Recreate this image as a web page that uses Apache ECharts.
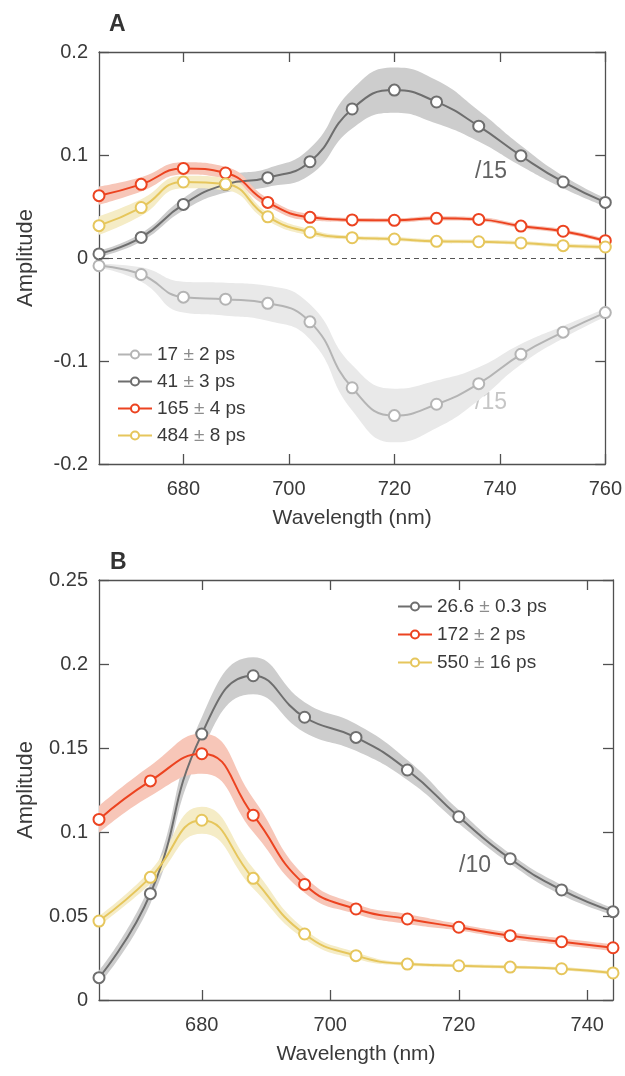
<!DOCTYPE html>
<html>
<head>
<meta charset="utf-8">
<script src="https://cdn.jsdelivr.net/npm/echarts@6/dist/echarts.min.js"></script>
<style>
html,body{margin:0;padding:0;background:#fff;}
#chart{width:625px;height:1076px;}
</style>
</head>
<body>
<div id="chart"></div>
<script>
// panel A data (nm, amplitude), /15 components already scaled
var wlA = [664, 672, 680, 688, 696, 704, 712, 720, 728, 736, 744, 752, 760];
var amp17 = [-0.0075, -0.016, -0.038, -0.040, -0.044, -0.062, -0.126, -0.153, -0.142, -0.122, -0.0935, -0.072, -0.053];
var err17 = [0.002, 0.007, 0.015, 0.016, 0.017, 0.017, 0.022, 0.026, 0.023, 0.016, 0.010, 0.006, 0.004];
var amp41 = [0.004, 0.020, 0.052, 0.0715, 0.078, 0.0935, 0.1447, 0.163, 0.1515, 0.128, 0.0993, 0.0738, 0.054];
var err41 = [0.003, 0.004, 0.006, 0.008, 0.009, 0.013, 0.019, 0.022, 0.021, 0.015, 0.010, 0.006, 0.004];
var amp165 = [0.0605, 0.0715, 0.087, 0.0825, 0.054, 0.0395, 0.037, 0.0366, 0.0385, 0.0375, 0.031, 0.026, 0.0168];
var err165 = [0.009, 0.007, 0.006, 0.006, 0.004, 0.003, 0.002, 0.002, 0.002, 0.002, 0.002, 0.002, 0.002];
var amp484 = [0.0314, 0.049, 0.0738, 0.0718, 0.040, 0.025, 0.0197, 0.0184, 0.0162, 0.0158, 0.0146, 0.012, 0.0107];
var err484 = [0.009, 0.008, 0.006, 0.006, 0.004, 0.003, 0.002, 0.002, 0.002, 0.002, 0.002, 0.002, 0.002];
var namesA = ['17 ± 2 ps', '41 ± 3 ps', '165 ± 4 ps', '484 ± 8 ps'];
var ticksXA = [680, 700, 720, 740, 760];

// panel B data
var wlB = [664, 672, 680, 688, 696, 704, 712, 720, 728, 736, 744];
var amp26 = [0.0133, 0.0633, 0.1583, 0.193, 0.1683, 0.1563, 0.1369, 0.1091, 0.0841, 0.0655, 0.0526];
var err26 = [0.004, 0.006, 0.010, 0.011, 0.009, 0.008, 0.006, 0.004, 0.003, 0.003, 0.002];
var amp172 = [0.1075, 0.1304, 0.1466, 0.110, 0.0688, 0.0542, 0.0482, 0.0433, 0.0383, 0.0347, 0.0311];
var err172 = [0.008, 0.009, 0.012, 0.010, 0.005, 0.003, 0.003, 0.002, 0.002, 0.002, 0.002];
var amp550 = [0.047, 0.073, 0.107, 0.0724, 0.0393, 0.0264, 0.0214, 0.0204, 0.0196, 0.0186, 0.0161];
var err550 = [0.003, 0.004, 0.008, 0.006, 0.003, 0.002, 0.001, 0.001, 0.001, 0.001, 0.001];
var namesB = ['26.6 ± 0.3 ps', '172 ± 2 ps', '550 ± 16 ps'];
var ticksXB = [680, 700, 720, 740];

var FONT = 'Liberation Sans, Arial, sans-serif';
var TXT = '#3a3a3a';
var AXC = '#505050';

var cLight = '#b4b4b4', cDark = '#6e6e6e', cRed = '#ec4320', cYel = '#e6c65c';
var bLight = '#e9e9e9', bDark = '#cdcdcd', bRed = '#f7c6b8', bYel = '#f5ecc6';

var series = [];

// error band = invisible lower edge + stacked width, on a hidden category axis
// that spans the same grid (points are evenly spaced, so positions match)
function addBand(gi, mid, err, color, key) {
  var lower = [], width = [];
  for (var i = 0; i < mid.length; i++) {
    lower.push(mid[i] - err[i]);
    width.push(2 * err[i]);
  }
  series.push({
    type: 'line', xAxisIndex: gi * 3 + 2, yAxisIndex: gi * 2, data: lower,
    stack: key, stackStrategy: 'all', smooth: true, symbol: 'none',
    lineStyle: { opacity: 0 }, z: 1, silent: true
  });
  series.push({
    type: 'line', xAxisIndex: gi * 3 + 2, yAxisIndex: gi * 2, data: width,
    stack: key, stackStrategy: 'all', smooth: true, symbol: 'none',
    lineStyle: { opacity: 0 }, areaStyle: { color: color, opacity: 1 }, z: 1, silent: true
  });
}

function addLine(gi, name, x, y, color, extra) {
  var d = [];
  for (var i = 0; i < x.length; i++) d.push([x[i], y[i]]);
  var s = {
    type: 'line', name: name, xAxisIndex: gi * 3, yAxisIndex: gi * 2, data: d,
    smooth: true, symbol: 'emptyCircle', symbolSize: 11,
    itemStyle: { color: color, borderWidth: 1.6 },
    lineStyle: { color: color, width: 2 }, z: 3
  };
  if (extra) for (var k in extra) s[k] = extra[k];
  series.push(s);
}

addBand(0, amp17, err17, bLight, 'a17');
addBand(0, amp41, err41, bDark, 'a41');
addBand(0, amp165, err165, bRed, 'a165');
addBand(0, amp484, err484, bYel, 'a484');
addLine(0, namesA[0], wlA, amp17, cLight, {
  markLine: {
    silent: true, symbol: 'none', label: { show: false },
    lineStyle: { color: '#555', type: [5, 4], width: 1.2 },
    data: [{ yAxis: 0 }]
  }
});
addLine(0, namesA[1], wlA, amp41, cDark);
addLine(0, namesA[2], wlA, amp165, cRed);
addLine(0, namesA[3], wlA, amp484, cYel);

addBand(1, amp26, err26, bDark, 'b26');
addBand(1, amp172, err172, bRed, 'b172');
addBand(1, amp550, err550, bYel, 'b550');
addLine(1, namesB[0], wlB, amp26, cDark);
addLine(1, namesB[1], wlB, amp172, cRed);
addLine(1, namesB[2], wlB, amp550, cYel);

function yFmt(v) {
  return String(parseFloat(v.toFixed(3)));
}

function xAxes(gi, wl, ticks) {
  var line = { show: true, onZero: false, lineStyle: { color: AXC, width: 1.3 } };
  var min = wl[0], max = wl[wl.length - 1];
  return [{
    type: 'value', gridIndex: gi, position: 'bottom', min: min, max: max,
    axisLine: line, splitLine: { show: false },
    axisTick: { show: true, inside: true, length: 10, customValues: ticks, lineStyle: { color: AXC, width: 1.3 } },
    axisLabel: { customValues: ticks, fontSize: 20, color: TXT, fontFamily: FONT, margin: 15 },
    name: 'Wavelength (nm)', nameLocation: 'middle', nameGap: 44,
    nameTextStyle: { fontSize: 21, color: TXT, fontFamily: FONT }
  }, {
    type: 'value', gridIndex: gi, position: 'top', min: min, max: max,
    axisLine: line, splitLine: { show: false },
    axisTick: { show: true, inside: true, length: 10, customValues: ticks, lineStyle: { color: AXC, width: 1.3 } },
    axisLabel: { show: false }
  }, {
    type: 'category', gridIndex: gi, data: wl.map(String), boundaryGap: false, show: false
  }];
}

function yAxes(gi, min, max, step) {
  var line = { show: true, onZero: false, lineStyle: { color: AXC, width: 1.3 } };
  var tick = { show: true, inside: true, length: 10, lineStyle: { color: AXC, width: 1.3 } };
  return [{
    type: 'value', gridIndex: gi, position: 'left', min: min, max: max, interval: step,
    axisLine: line, axisTick: tick, splitLine: { show: false },
    axisLabel: { formatter: yFmt, fontSize: 20, color: TXT, fontFamily: FONT, margin: 11 },
    name: 'Amplitude', nameLocation: 'middle', nameGap: 62,
    nameTextStyle: { fontSize: 22, color: TXT, fontFamily: FONT }
  }, {
    type: 'value', gridIndex: gi, position: 'right', min: min, max: max, interval: step,
    axisLine: line, axisTick: tick, splitLine: { show: false },
    axisLabel: { show: false }
  }];
}

function legendFmt(name) {
  var p = name.split(' ± ');
  return p[0] + ' {pm|±} ' + p[1];
}

var legendText = {
  fontSize: 19, color: TXT, fontFamily: FONT,
  rich: { pm: { fontSize: 19, color: '#8c8c8c', fontFamily: FONT } }
};

var option = {
  animation: false,
  backgroundColor: '#fff',
  grid: [
    { left: 99, top: 52, width: 508, height: 412 },
    { left: 99, top: 580, width: 514, height: 420 }
  ],
  xAxis: xAxes(0, wlA, ticksXA).concat(xAxes(1, wlB, ticksXB)),
  yAxis: yAxes(0, -0.2, 0.2, 0.1).concat(yAxes(1, 0, 0.25, 0.05)),
  legend: [{
    data: namesA, orient: 'vertical', left: 117, top: 345, padding: 0,
    itemWidth: 34, itemHeight: 10, itemGap: 8, selectedMode: false,
    formatter: legendFmt, textStyle: legendText
  }, {
    data: namesB, orient: 'vertical', left: 397, top: 597, padding: 0,
    itemWidth: 34, itemHeight: 10, itemGap: 9, selectedMode: false,
    formatter: legendFmt, textStyle: legendText
  }],
  graphic: [
    { type: 'text', left: 109, top: 13, style: { text: 'A', fill: '#333', font: 'bold 23px ' + FONT } },
    { type: 'text', left: 110, top: 551, style: { text: 'B', fill: '#333', font: 'bold 23px ' + FONT } },
    { type: 'text', left: 475, top: 160, style: { text: '/15', fill: '#636363', font: '23px ' + FONT } },
    { type: 'text', left: 475, top: 391, style: { text: '/15', fill: '#c6c6c6', font: '23px ' + FONT } },
    { type: 'text', left: 459, top: 854, style: { text: '/10', fill: '#636363', font: '23px ' + FONT } }
  ],
  series: series
};

var chart = echarts.init(document.getElementById('chart'));
chart.setOption(option);
</script>
</body>
</html>
